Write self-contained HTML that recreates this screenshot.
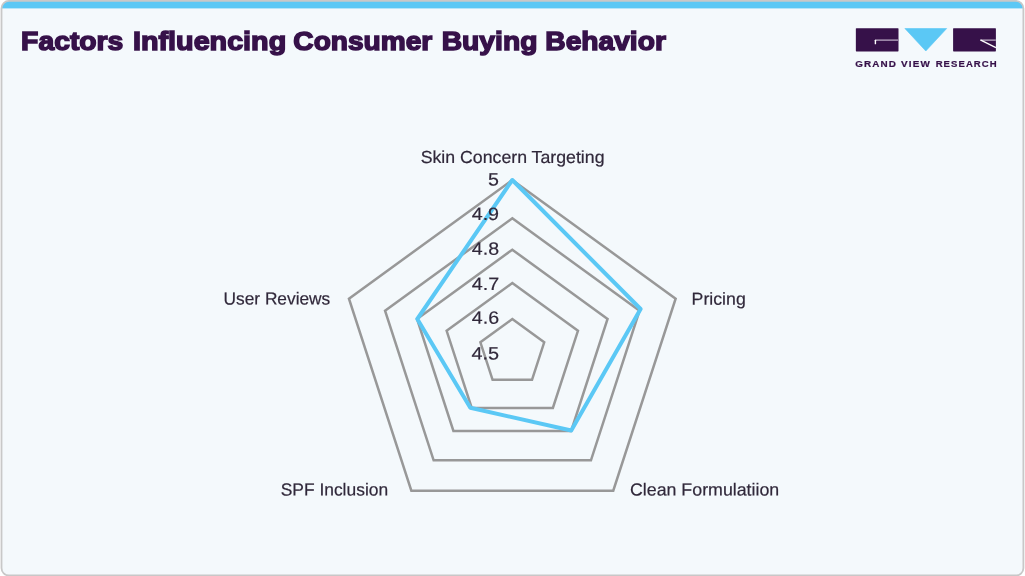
<!DOCTYPE html>
<html lang="en"><head><meta charset="utf-8"><title>Factors Influencing Consumer Buying Behavior</title>
<style>
html,body{margin:0;padding:0;background:#fff;}
body{width:1025px;height:576px;overflow:hidden;position:relative;font-family:"Liberation Sans",sans-serif;}
svg{position:absolute;left:0;top:0;}
.title text{font-family:"Liberation Sans",sans-serif;font-weight:bold;font-size:26.7px;fill:#361149;stroke:#361149;stroke-width:1.5px;stroke-linejoin:miter;stroke-miterlimit:3;paint-order:stroke;}
.lab text{font-family:"Liberation Sans",sans-serif;font-size:17.4px;fill:#30283a;stroke:#30283a;stroke-width:0.2px;text-rendering:geometricPrecision;}
.tick text{font-family:"Liberation Sans",sans-serif;font-size:17.9px;fill:#30283a;stroke:#30283a;stroke-width:0.2px;text-rendering:geometricPrecision;}
.brand text{font-family:"Liberation Sans",sans-serif;font-weight:bold;font-size:8.8px;letter-spacing:1px;fill:#361149;stroke:#361149;stroke-width:0.2px;}
</style></head>
<body>
<svg width="1025" height="576" viewBox="0 0 1025 576">
<defs><clipPath id="cardclip"><rect x="1.5" y="0.9" width="1021.9" height="574.6" rx="7.5"/></clipPath></defs>
<rect x="1.5" y="0.9" width="1021.9" height="574.6" rx="7.5" fill="#f4f9fc"/>
<rect x="0" y="0" width="1025" height="8.4" fill="#5bc8f5" clip-path="url(#cardclip)"/>
<rect x="1.5" y="0.9" width="1021.9" height="574.6" rx="7.5" fill="none" stroke="#c8c8c8" stroke-width="1.8"/>
<g class="title">
<text y="50"><tspan x="21.12" textLength="102.25" lengthAdjust="spacingAndGlyphs">Factors</tspan> <tspan x="133.05" textLength="153.13" lengthAdjust="spacingAndGlyphs">Influencing</tspan> <tspan x="293.39" textLength="138.86" lengthAdjust="spacingAndGlyphs">Consumer</tspan> <tspan x="441.68" textLength="95.73" lengthAdjust="spacingAndGlyphs">Buying</tspan> <tspan x="545.31" textLength="120.6" lengthAdjust="spacingAndGlyphs">Behavior</tspan></text>
</g>
<g id="logo">
<rect x="855.85" y="28.2" width="42.65" height="23.2" rx="0.6" fill="#361149"/>
<rect x="875.2" y="39.3" width="23.3" height="1.7" fill="#9a85a6"/>
<rect x="874.7" y="39.7" width="1.4" height="4.5" rx="0.5" fill="#ffffff"/>
<path d="M904.9 28.5H946.7L925.8 51Z" fill="#5bc8f5" stroke="#5bc8f5" stroke-width="0.6" stroke-linejoin="round"/>
<rect x="953.1" y="28.2" width="42.8" height="23.2" rx="0.6" fill="#361149"/>
<rect x="981" y="39.3" width="14.9" height="1.7" fill="#9a85a6"/>
<path d="M980.3 39.9L995.9 47.6" fill="none" stroke="#ffffff" stroke-width="1.3"/>
<g class="brand">
<text y="67"><tspan x="855.31" textLength="41.81" lengthAdjust="spacingAndGlyphs">GRAND</tspan> <tspan x="901.11" textLength="29.77" lengthAdjust="spacingAndGlyphs">VIEW</tspan> <tspan x="935.65" textLength="62.11" lengthAdjust="spacingAndGlyphs">RESEARCH</tspan></text>
</g>
</g>
<g fill="none" stroke="#989898" stroke-width="2.5" stroke-linejoin="miter">
<polygon points="512.30,180.00 675.64,298.68 613.25,490.70 411.35,490.70 348.96,298.68"/>
<polygon points="512.30,218.30 639.55,310.75 590.95,460.35 433.65,460.35 385.05,310.75"/>
<polygon points="512.30,249.70 607.56,318.91 571.18,430.90 453.42,430.90 417.04,318.91"/>
<polygon points="512.30,283.10 577.96,330.81 552.88,408.00 471.72,408.00 446.64,330.81"/>
<polygon points="512.30,319.10 544.21,342.29 532.02,379.80 492.58,379.80 480.39,342.29"/>
</g>
<polygon points="512.3,180 640.6,309 571.25,430.5 470.3,407.8 417.3,319" fill="none" stroke="#5bc8f5" stroke-width="4" stroke-linejoin="round"/>
<g class="tick">
<text transform="rotate(0.03 488.05 185.5)" x="488.05" y="185.5" textLength="10.91" lengthAdjust="spacingAndGlyphs">5</text>
<text transform="rotate(0.03 471.71 220)" x="471.71" y="220" textLength="27.37" lengthAdjust="spacingAndGlyphs">4.9</text>
<text transform="rotate(0.03 471.84 254.75)" x="471.84" y="254.75" textLength="27.23" lengthAdjust="spacingAndGlyphs">4.8</text>
<text transform="rotate(0.03 471.7 290)" x="471.7" y="290" textLength="27.42" lengthAdjust="spacingAndGlyphs">4.7</text>
<text transform="rotate(0.03 471.84 323.75)" x="471.84" y="323.75" textLength="27.22" lengthAdjust="spacingAndGlyphs">4.6</text>
<text transform="rotate(0.03 471.57 359.5)" x="471.57" y="359.5" textLength="27.59" lengthAdjust="spacingAndGlyphs">4.5</text>
</g>
<g class="lab">
<text transform="rotate(0.03 420.65 163)" x="420.65" y="163" textLength="183.87" lengthAdjust="spacingAndGlyphs">Skin Concern Targeting</text>
<text transform="rotate(0.03 691.59 304.75)" x="691.59" y="304.75" textLength="54.18" lengthAdjust="spacingAndGlyphs">Pricing</text>
<text transform="rotate(0.03 629.95 495.5)" x="629.95" y="495.5" textLength="149.32" lengthAdjust="spacingAndGlyphs">Clean Formulatiion</text>
<text transform="rotate(0.03 280.67 495.5)" x="280.67" y="495.5" textLength="107.48" lengthAdjust="spacingAndGlyphs">SPF Inclusion</text>
<text transform="rotate(0.03 223.55 304.5)" x="223.55" y="304.5" textLength="106.7" lengthAdjust="spacingAndGlyphs">User Reviews</text>
</g>
</svg>
</body></html>
